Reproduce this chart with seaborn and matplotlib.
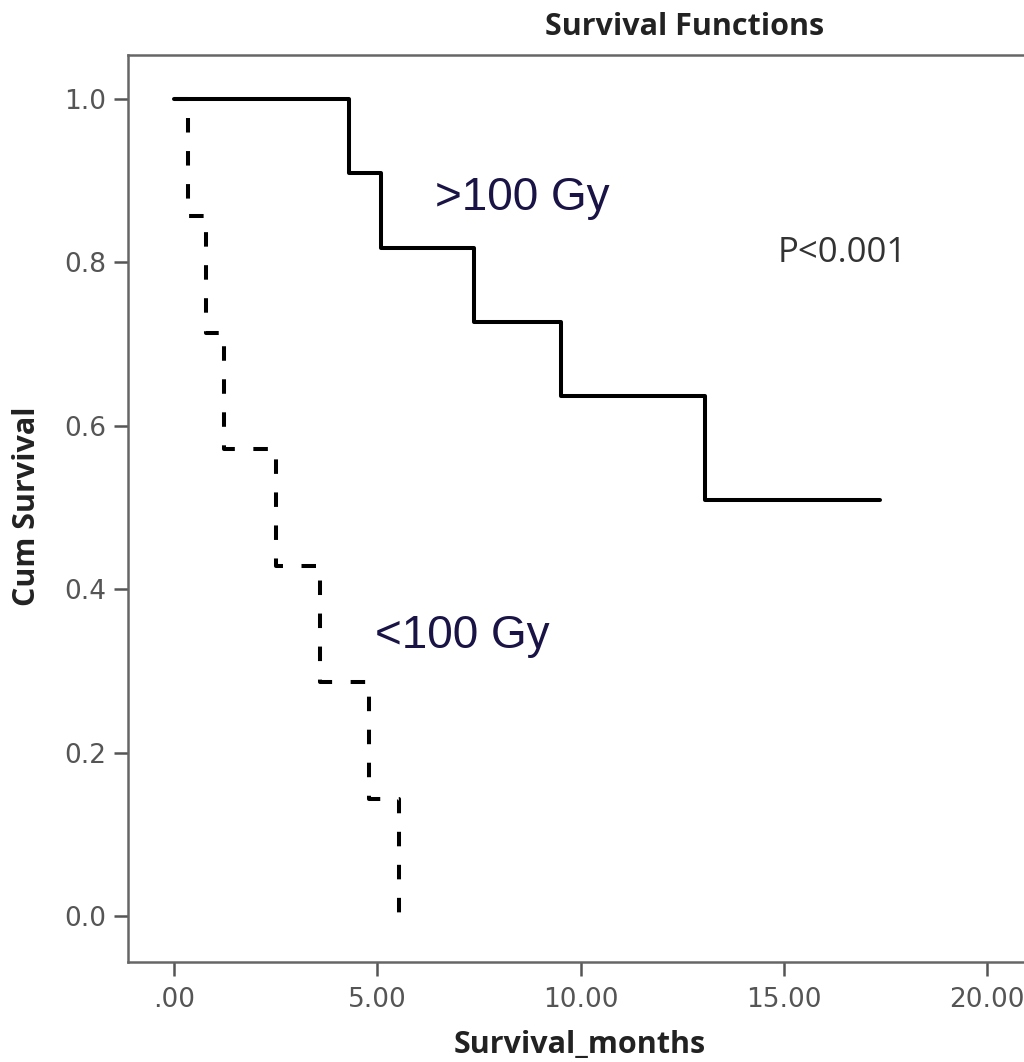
import matplotlib
matplotlib.use("Agg")
import matplotlib.pyplot as plt
import seaborn as sns
import pandas as pd

# Data (Kaplan-Meier step points)
high_months = [0.0, 4.30, 5.09, 7.38, 9.52, 13.06, 17.37]
high_surv = [1.0, 0.909, 0.818, 0.727, 0.636, 0.509, 0.509]
low_months = [0.0, 0.34, 0.79, 1.23, 2.51, 3.59, 4.80, 5.53]
low_surv = [1.0, 0.857, 0.714, 0.571, 0.429, 0.286, 0.143, 0.0]
x_ticks = [0, 5, 10, 15, 20]
x_tick_labels = [".00", "5.00", "10.00", "15.00", "20.00"]
y_ticks = [0.0, 0.2, 0.4, 0.6, 0.8, 1.0]
y_tick_labels = ["0.0", "0.2", "0.4", "0.6", "0.8", "1.0"]

sns.set_theme(style="white")
plt.rcParams['font.family'] = ['Open Sans', 'DejaVu Sans']

W, H = 1024, 1062
fig = plt.figure(figsize=(W / 100, H / 100), dpi=100)
ax = fig.add_axes([128 / W, 1 - 962 / H, (1068 - 128) / W, (962 - 55) / H])

df_low = pd.DataFrame({"months": low_months, "surv": low_surv})
df_high = pd.DataFrame({"months": high_months, "surv": high_surv})

sns.lineplot(data=df_low, x="months", y="surv", ax=ax, estimator=None, sort=False,
             drawstyle="steps-post", color="black", linewidth=2.9,
             linestyle=(0, (3.6, 4.6)))
sns.lineplot(data=df_high, x="months", y="surv", ax=ax, estimator=None, sort=False,
             drawstyle="steps-post", color="black", linewidth=2.9)

x0 = -46 / 40.65
ax.set_xlim(x0, x0 + (1068 - 128) / 40.65)
ax.set_ylim(-46 / 817, 1 + 44 / 817)

ax.set_xticks(x_ticks)
ax.set_xticklabels(x_tick_labels, family=["DejaVu Sans"])
ax.set_yticks(y_ticks)
ax.set_yticklabels(y_tick_labels, family=["DejaVu Sans"])
ax.tick_params(axis="both", bottom=True, left=True, top=False, right=False,
               direction="out", length=10, width=1.8, color="#555555",
               labelsize=19, labelcolor="#555555")
ax.tick_params(axis="x", pad=8)
ax.tick_params(axis="y", pad=6)
for side in ["left", "bottom", "top", "right"]:
    ax.spines[side].set_color("#666666")
    ax.spines[side].set_linewidth(1.8)
ax.set_xlabel("")
ax.set_ylabel("")

ax.text(6.42, 0.864, ">100 Gy", fontsize=33, color="#1a1446", family=["Liberation Sans"])
ax.text(4.94, 0.328, "<100 Gy", fontsize=33, color="#1a1446", family=["Liberation Sans"])
ax.text(14.86, 0.80, "P<0.001", fontsize=25, color="#333333")

fig.text(685 / W, 1 - 27 / H, "Survival Functions", fontsize=22, fontweight="bold",
         color="#222222", ha="center", va="center")
fig.text(580 / W, 1 - 1045 / H, "Survival_months", fontsize=22, fontweight="bold",
         color="#222222", ha="center", va="center")
fig.text(27 / W, 1 - 506 / H, "Cum Survival", fontsize=22, fontweight="bold",
         color="#222222", ha="center", va="center", rotation=90)

fig.savefig("out.png", dpi=100)
